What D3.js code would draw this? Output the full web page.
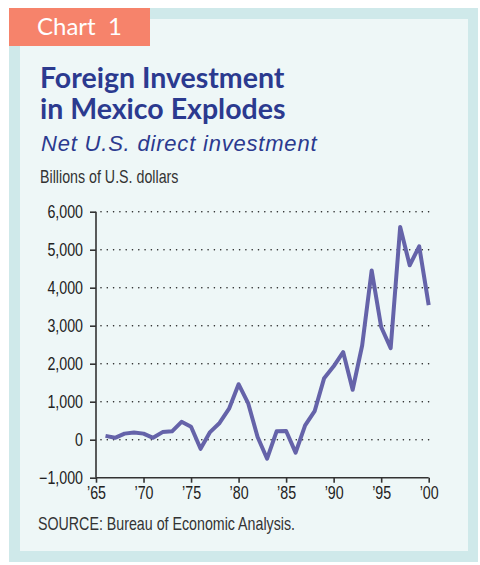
<!DOCTYPE html>
<html>
<head>
<meta charset="utf-8">
<script src="https://cdn.jsdelivr.net/npm/d3@7"></script>
<style>
  body { margin: 0; background: #fff; }
  text { font-family: "Liberation Sans", Arial, sans-serif; }
</style>
</head>
<body>
<div id="frame"></div>
<script>
// data (millions of dollars, labelled as billions on the original)
let years = [1966, 1967, 1968, 1969, 1970, 1971, 1972, 1973, 1974, 1975,
             1976, 1977, 1978, 1979, 1980, 1981, 1982, 1983, 1984, 1985,
             1986, 1987, 1988, 1989, 1990, 1991, 1992, 1993, 1994, 1995,
             1996, 1997, 1998, 1999, 2000];
let investment = [100, 50, 160, 190, 160, 50, 200, 220, 470, 340,
                  -240, 200, 440, 815, 1460, 965, 70, -500, 220, 230,
                  -340, 375, 750, 1620, 1930, 2305, 1315, 2480, 4455, 2965,
                  2410, 5600, 4590, 5090, 3540];
let yTicks = [-1000, 0, 1000, 2000, 3000, 4000, 5000, 6000];
let gridValues = [0, 1000, 2000, 3000, 4000, 5000, 6000];
let xTicks = [1965, 1970, 1975, 1980, 1985, 1990, 1995, 2000];

let width = 480, height = 565;
// squeeze for a condensed look (no narrow font installed)
let squeeze = 0.8;
let smallSize = '17.8px';

let svg = d3.select('#frame')
    .append('svg')
    .attr('width', width)
    .attr('height', height);

// outer frame, inner panel, tag
svg.append('rect').attr('x', 9).attr('y', 8).attr('width', 469).attr('height', 554).attr('fill', '#cfe9ea');
svg.append('rect').attr('x', 20).attr('y', 19).attr('width', 448).attr('height', 532).attr('fill', '#eef7f7');
svg.append('rect').attr('x', 9).attr('y', 8).attr('width', 141).attr('height', 38).attr('fill', '#f6836b');

svg.append('text')
    .attr('x', 37).attr('y', 35)
    .style('font-family', 'Lato, "Open Sans", sans-serif')
    .style('font-size', '24px')
    .attr('fill', '#fff')
    .attr('xml:space', 'preserve')
    .text('Chart  1');

// titles
let titleLines = ['Foreign Investment', 'in Mexico Explodes'];
svg.append('g')
    .selectAll('text')
    .data(titleLines)
    .enter()
    .append('text')
    .attr('x', 40)
    .attr('y', (d, i) => 88 + i * 31)
    .style('font-family', 'Lato, sans-serif')
    .style('font-weight', 'bold')
    .style('font-size', '28.5px')
    .attr('fill', '#2b3a8f')
    .text(d => d);

svg.append('text')
    .attr('x', 41).attr('y', 151)
    .style('font-style', 'italic')
    .style('font-size', '22px')
    .style('letter-spacing', '0.8px')
    .attr('fill', '#2b3a8f')
    .text('Net U.S. direct investment');

function narrowText(sel, x, y, str) {
    return sel.append('text')
        .attr('transform', 'scale(' + squeeze + ',1)')
        .attr('x', x / squeeze).attr('y', y)
        .style('font-size', smallSize)
        .attr('fill', '#333')
        .text(str);
}

narrowText(svg, 40, 183, 'Billions of U.S. dollars');

// scales
let x = d3.scaleLinear().domain([1965, 2000]).range([96, 428.7]);
let y = d3.scaleLinear().domain([-1000, 6000]).range([477.7, 211.7]);

// dotted gridlines
svg.append('g')
    .selectAll('line')
    .data(gridValues)
    .enter()
    .append('line')
    .attr('x1', 101).attr('x2', 430)
    .attr('y1', d => y(d)).attr('y2', d => y(d))
    .attr('stroke', '#222')
    .attr('stroke-width', 1.6)
    .attr('stroke-linecap', 'round')
    .attr('stroke-dasharray', '0,6.3');

// axes
let yAxis = svg.append('g')
    .attr('transform', 'translate(' + x(1965) + ',0)')
    .call(d3.axisLeft(y).tickValues(yTicks).tickSize(6).tickPadding(7).tickFormat(d3.format(',')));

let xAxis = svg.append('g')
    .attr('transform', 'translate(0,' + y(-1000) + ')')
    .call(d3.axisBottom(x).tickValues(xTicks).tickSize(5).tickPadding(4)
        .tickFormat(d => '\u2019' + String(d).slice(2)));

[yAxis, xAxis].forEach(a => {
    a.select('.domain').attr('stroke', '#333').attr('stroke-width', 1.6);
    a.selectAll('.tick line').attr('stroke', '#333').attr('stroke-width', 1.6);
    a.selectAll('.tick text')
        .style('font-family', '"Liberation Sans", Arial, sans-serif')
        .style('font-size', smallSize)
        .attr('fill', '#222');
});
// condense tick labels around their anchor
yAxis.selectAll('.tick text')
    .attr('x', -13 / squeeze)
    .attr('transform', 'scale(' + squeeze + ',1)');
xAxis.selectAll('.tick text')
    .attr('transform', 'scale(' + squeeze + ',1)');

// domain path without outer ticks
yAxis.select('.domain').attr('d', 'M0,' + y(6000) + 'V' + y(-1000));
xAxis.select('.domain').attr('d', 'M' + x(1965) + ',0H' + x(2000));

// line
let line = d3.line()
    .x((d, i) => x(years[i]))
    .y(d => y(d));

svg.append('path')
    .datum(investment)
    .attr('d', line)
    .attr('fill', 'none')
    .attr('stroke', '#6563a9')
    .attr('stroke-width', 4)
    .attr('stroke-linejoin', 'round')
    .attr('stroke-linecap', 'butt');

// source
narrowText(svg, 38, 530, 'SOURCE: Bureau of Economic Analysis.');
</script>
</body>
</html>
